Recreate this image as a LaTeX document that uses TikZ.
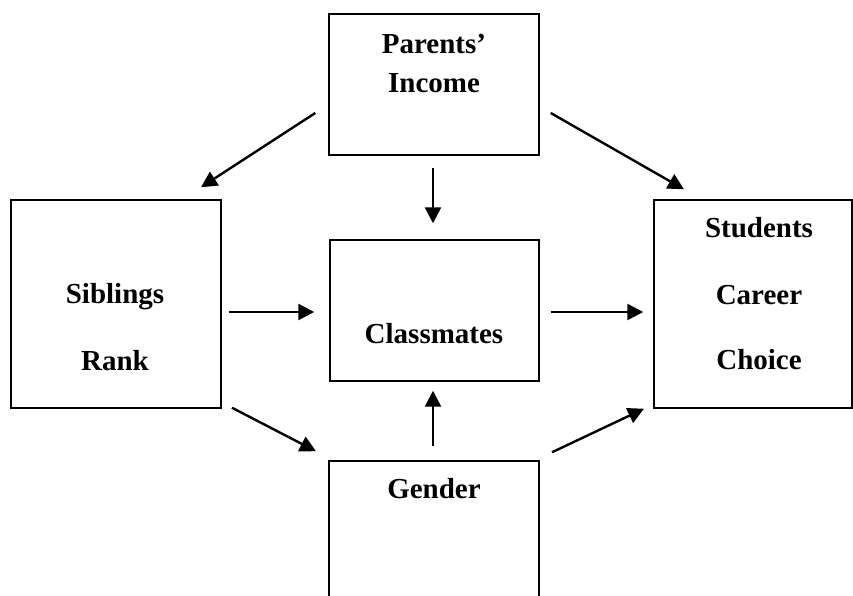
\documentclass[tikz,border=0pt]{standalone}
\usepackage{fontspec}
\setmainfont{Liberation Serif}
\usetikzlibrary{arrows.meta,calc}

\begin{document}
\begin{tikzpicture}[x=0.75pt,y=-0.75pt,
	box/.style={draw,line width=1.1pt,inner sep=0pt},
	lbl/.style={anchor=base,inner sep=0pt,font=\fontsize{21.75}{26}\selectfont\bfseries},
	arr/.style={line width=1.8pt,-{Triangle[length=12pt,width=12pt]}}]
	\useasboundingbox (0,0) rectangle (853,596);
	%Boxes
	\node[box,minimum width=157.5pt,minimum height=105.75pt] (par) at (434,84.5) {};
	\node[box,minimum width=157.5pt,minimum height=156pt] (sib) at (116,304) {};
	\node[box,minimum width=156.75pt,minimum height=105.75pt] (cls) at (434.5,310.5) {};
	\node[box,minimum width=148.5pt,minimum height=156pt] (stu) at (753,304) {};
	\node[box,minimum width=157.5pt,minimum height=133.5pt] (gen) at (434,550) {};
	%Texts in the boxes
	\node[lbl] (parA) at (434,53) {Parents'};
	\node[lbl] (parB) at (434,92) {Income};
	\node[lbl] (sibA) at (115,303) {Siblings};
	\node[lbl] (sibB) at (115,370) {Rank};
	\node[lbl] (clsA) at (434,343) {Classmates};
	\node[lbl] (stuA) at (759,237) {Students};
	\node[lbl] (stuB) at (759,304) {Career};
	\node[lbl] (stuC) at (759,369) {Choice};
	\node[lbl] (genA) at (434,498) {Gender};
	%Arrows from the top box
	\draw[arr] ($(par.west)+(-13,28.5)$) -- ($(sib.north)+(85,-12)$);
	\draw[arr] ($(par.east)+(11,28.5)$) -- ($(stu.north)+(-69,-10)$);
	\draw[arr] ($(par.south)+(-1,12)$) -- ($(cls.north)+(-1.5,-16)$);
	%Arrows in the middle row
	\draw[arr] ($(sib.east)+(7,8)$) -- ($(cls.west)+(-15,1.5)$);
	\draw[arr] ($(cls.east)+(11,1.5)$) -- ($(stu.west)+(-10,8)$);
	%Arrows from and to the bottom box
	\draw[arr] ($(gen.north)+(-1,-14)$) -- ($(cls.south)+(-1.5,9)$);
	\draw[arr] ($(sib.south)+(116,-1)$) -- ($(gen.north)+(-118,-9)$);
	\draw[arr] ($(gen.north)+(118,-8)$) -- ($(stu.south)+(-109,0)$);
\end{tikzpicture}
\end{document}
